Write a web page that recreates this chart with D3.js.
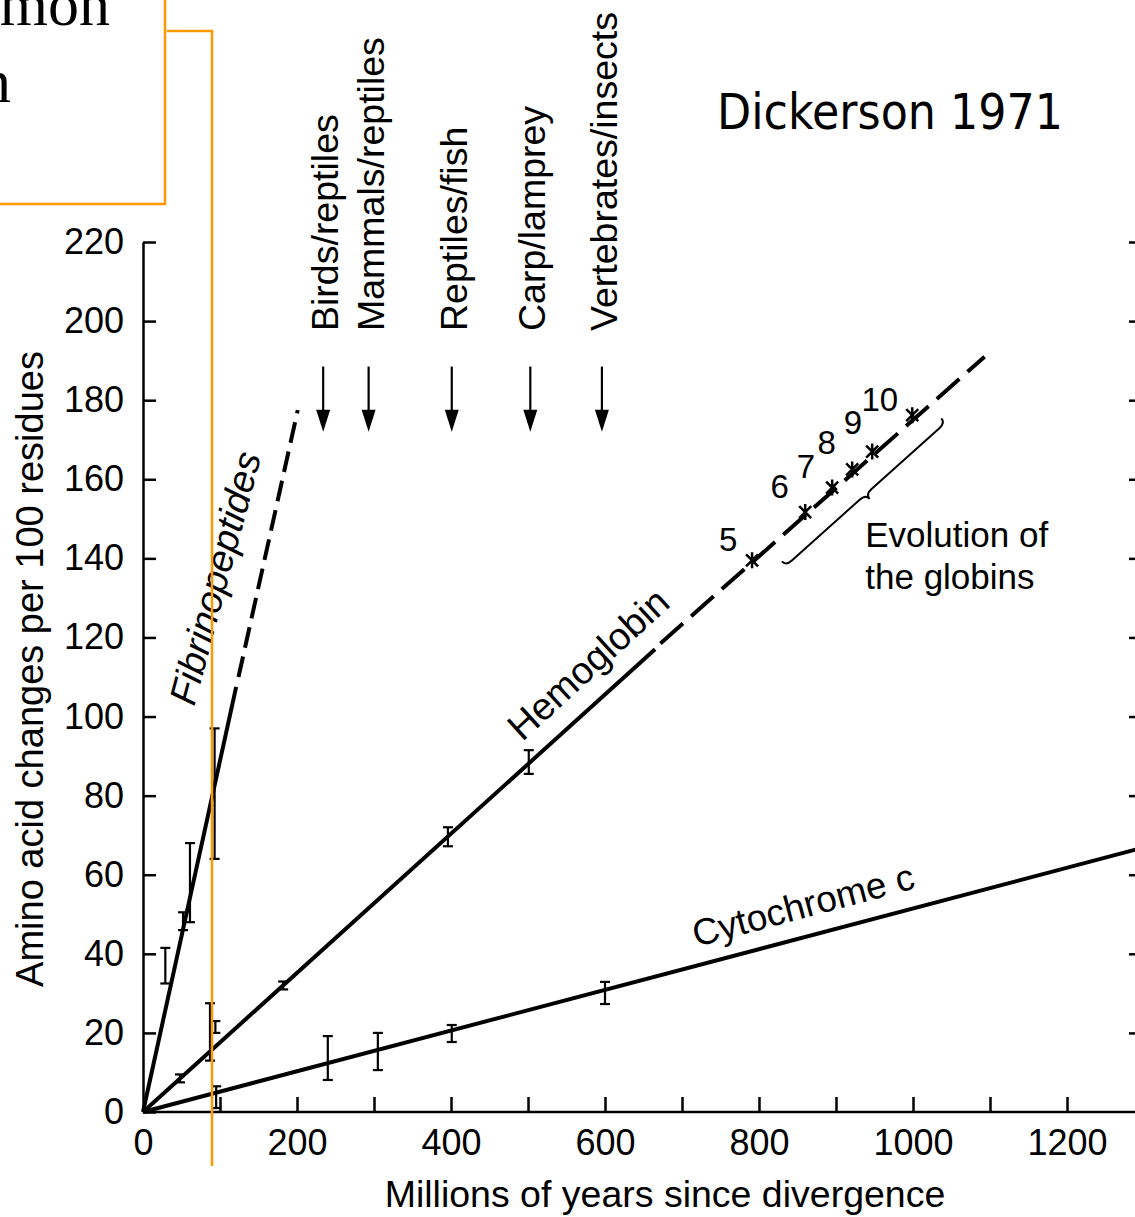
<!DOCTYPE html>
<meta charset="utf-8">

<style type="text/css">
  body {
    margin: 0;
    background: #fff;
  }

  svg text {
    font-family: "Liberation Sans", Arial, sans-serif;
    fill: #000;
  }

  .axis line,
  .axis path {
    stroke: #000;
    stroke-width: 2.5px;
  }
</style>

<body>
</body>

<script src="https://d3js.org/d3.v7.min.js"></script>
<script>
  // axis ticks
  var xTicks = [0, 200, 400, 600, 800, 1000, 1200];
  var xMinorTicks = [100, 200, 300, 400, 500, 600, 700, 800, 900, 1000, 1100, 1200];
  var yTicks = [0, 20, 40, 60, 80, 100, 120, 140, 160, 180, 200, 220];
  var rightTicks = [20, 40, 60, 80, 100, 120, 140, 160, 180, 200, 220];

  // fitted lines [Myr, changes per 100 residues]
  var fibrinoSolid = [[0, 0], [121, 107.5]];
  var fibrinoDashed = [[124, 110], [201, 177.5]];
  var hemoSolid = [[0, 0], [665, 117]];
  var hemoDashed = [[672, 118.5], [1093, 191]];
  var cytoSolid = [[0, 0], [1292, 66.5]];

  // error bars [Myr, low, high]
  var fibrinoErr = [[29, 32.5, 41.5], [52, 46, 50.5], [61, 48, 68], [93, 64, 97]];
  var hemoErr = [[48, 7.5, 9.5], [87, 13, 27.5], [94, 20, 23], [182, 31, 33], [396, 67.2, 72], [501, 85.5, 91.5]];
  var cytoErr = [[95, 1, 6.5], [240, 8.1, 19.2], [305, 10.6, 20], [401, 17.7, 22], [600, 27.3, 32.9]];

  // globin divergences 5..10 on the hemoglobin line
  var globinNums = ["5", "6", "7", "8", "9", "10"];
  var globinMyr = [791, 860, 895, 921, 947, 999];
  var globinVal = [139.5, 151.7, 157.9, 162.5, 167.0, 176.2];
  var globinLabelMyr = [760, 827, 861, 888, 922, 957];
  var globinLabelVal = [144.8, 158.2, 163.3, 169.4, 174.4, 180.3];

  // divergence arrows
  var arrowNames = ["Birds/reptiles", "Mammals/reptiles", "Reptiles/fish", "Carp/lamprey", "Vertebrates/insects"];
  var arrowMyr = [234, 293, 401, 503, 596];

  var width = 1135,
    height = 1217;

  var x = d3.scaleLinear().domain([0, 1200]).range([143, 1067]),
    y = d3.scaleLinear().domain([0, 220]).range([1112, 242]);

  var svg = d3.select("body")
    .append("svg")
    .attr("width", width)
    .attr("height", height);

  svg.append("rect")
    .attr("width", width)
    .attr("height", height)
    .attr("fill", "#fff");

  //********* axes ****************
  var gx = svg.append("g")
    .attr("class", "axis")
    .attr("transform", "translate(0," + y(0) + ")")
    .call(d3.axisTop(x).tickValues(xMinorTicks).tickSize(15).tickFormat(""));
  gx.select(".domain").remove();
  gx.append("line")
    .attr("x1", x(0))
    .attr("x2", width);

  var gxl = svg.append("g")
    .attr("transform", "translate(0," + y(0) + ")")
    .call(d3.axisBottom(x).tickValues(xTicks).tickSize(0).tickPadding(17).tickFormat(d3.format("d")));
  gxl.select(".domain").remove();
  gxl.attr("font-size", 36).attr("font-family", null);

  var gy = svg.append("g")
    .attr("class", "axis")
    .attr("transform", "translate(" + x(0) + ",0)")
    .call(d3.axisRight(y).tickValues(yTicks).tickSize(13).tickFormat("").tickSizeOuter(0));

  var gyl = svg.append("g")
    .attr("transform", "translate(" + x(0) + ",0)")
    .call(d3.axisLeft(y).tickValues(yTicks).tickSize(0).tickPadding(19));
  gyl.select(".domain").remove();
  gyl.attr("font-size", 36).attr("font-family", null);

  var gr = svg.append("g") // right axis, mostly cut off
    .attr("class", "axis")
    .attr("transform", "translate(1141,0)")
    .call(d3.axisLeft(y).tickValues(rightTicks).tickSize(12).tickFormat(""));
  gr.select(".domain").remove();

  svg.append("text") // y label
    .attr("transform", "translate(30,669) rotate(-90)")
    .attr("dy", "0.35em")
    .attr("text-anchor", "middle")
    .style("font-size", "38px")
    .text("Amino acid changes per 100 residues");

  svg.append("text") // x label
    .attr("x", 665)
    .attr("y", 1207)
    .attr("text-anchor", "middle")
    .style("font-size", "37.5px")
    .text("Millions of years since divergence");

  svg.append("text")
    .attr("x", 717)
    .attr("y", 129)
    .attr("textLength", 346)
    .attr("lengthAdjust", "spacingAndGlyphs")
    .style("font-family", "'DejaVu Sans', sans-serif")
    .style("font-size", "50px")
    .text("Dickerson 1971");

  //********* lines ****************
  var line = d3.line()
    .x(function(d) { return x(d[0]); })
    .y(function(d) { return y(d[1]); });

  function drawLine(pts, dash) {
    svg.append("path")
      .datum(pts)
      .attr("d", line)
      .attr("fill", "none")
      .attr("stroke", "#000")
      .attr("stroke-width", 4)
      .attr("stroke-dasharray", dash);
  }
  drawLine(fibrinoSolid, null);
  drawLine(fibrinoDashed, "21,9");
  drawLine(hemoSolid, null);
  drawLine(hemoDashed, "30,11");
  drawLine(cytoSolid, null);

  function drawErr(rows) {
    var g = svg.append("g")
      .attr("stroke", "#000")
      .attr("stroke-width", 2.2);
    rows.forEach(function(d) {
      g.append("line")
        .attr("x1", x(d[0])).attr("x2", x(d[0]))
        .attr("y1", y(d[1])).attr("y2", y(d[2]));
      [d[1], d[2]].forEach(function(v) {
        g.append("line")
          .attr("x1", x(d[0]) - 5).attr("x2", x(d[0]) + 5)
          .attr("y1", y(v)).attr("y2", y(v));
      });
    });
  }
  drawErr(fibrinoErr);
  drawErr(hemoErr);
  drawErr(cytoErr);

  //********* globin stars ****************
  var star = svg.append("g").attr("stroke", "#000").attr("stroke-width", 2.5);
  globinMyr.forEach(function(m, i) {
    var cx = x(m),
      cy = y(globinVal[i]);
    star.append("path")
      .attr("d", "M" + (cx - 6) + "," + (cy - 6) + "L" + (cx + 6) + "," + (cy + 6) +
        "M" + (cx - 6) + "," + (cy + 6) + "L" + (cx + 6) + "," + (cy - 6) +
        "M" + cx + "," + (cy - 8) + "L" + cx + "," + (cy + 8));
  });
  svg.selectAll(".gnum")
    .data(globinNums)
    .enter().append("text")
    .attr("class", "gnum")
    .attr("x", function(d, i) { return x(globinLabelMyr[i]); })
    .attr("y", function(d, i) { return y(globinLabelVal[i]); })
    .attr("dy", "0.35em")
    .attr("text-anchor", "middle")
    .style("font-size", "33px")
    .text(function(d) { return d; });

  // brace under globin points
  (function() {
    var m0 = 815, m1 = 1022, k = hemoDashed[1][1] / hemoDashed[1][0];
    var p0 = [x(m0), y(m0 * k)], p1 = [x(m1), y(m1 * k)];
    var dx = p1[0] - p0[0], dy = p1[1] - p0[1], L = Math.sqrt(dx * dx + dy * dy);
    var u = [dx / L, dy / L], n = [-u[1], u[0]];
    var off = 17, h = 6, q = 8;
    function P(s, t) {
      return (p0[0] + s * u[0] + (t + off) * n[0]) + "," + (p0[1] + s * u[1] + (t + off) * n[1]);
    }
    var d = "M" + P(0, 0) + "Q" + P(0, h) + " " + P(q, h) +
      "L" + P(L / 2 - q, h) + "Q" + P(L / 2, h) + " " + P(L / 2, 2 * h) +
      "Q" + P(L / 2, h) + " " + P(L / 2 + q, h) +
      "L" + P(L - q, h) + "Q" + P(L, h) + " " + P(L, 0);
    svg.append("path")
      .attr("d", d)
      .attr("fill", "none")
      .attr("stroke", "#000")
      .attr("stroke-width", 2);
  })();

  svg.append("text")
    .attr("x", x(938))
    .attr("y", y(143))
    .style("font-size", "35px")
    .text("Evolution of");
  svg.append("text")
    .attr("x", x(938))
    .attr("y", y(132.2))
    .style("font-size", "35px")
    .text("the globins");

  //********* series labels ****************
  svg.append("text")
    .attr("transform", "translate(215,578) rotate(-75)")
    .attr("dy", "0.35em")
    .attr("text-anchor", "middle")
    .style("font-size", "38px")
    .style("font-style", "italic")
    .text("Fibrinopeptides");

  svg.append("text")
    .attr("transform", "translate(588,664) rotate(-42.5)")
    .attr("dy", "0.35em")
    .attr("text-anchor", "middle")
    .style("font-size", "38px")
    .text("Hemoglobin");

  svg.append("text")
    .attr("transform", "translate(803,905) rotate(-15)")
    .attr("dy", "0.35em")
    .attr("text-anchor", "middle")
    .style("font-size", "37px")
    .text("Cytochrome c");

  //********* divergence arrows ****************
  var arr = svg.append("g");
  arrowMyr.forEach(function(m, i) {
    var ax = x(m),
      top = y(188.5),
      tip = y(172);
    arr.append("line")
      .attr("x1", ax).attr("x2", ax)
      .attr("y1", top).attr("y2", tip - 12)
      .attr("stroke", "#000")
      .attr("stroke-width", 2.2);
    arr.append("path")
      .attr("d", "M" + (ax - 7) + "," + (tip - 22) + "L" + (ax + 7) + "," + (tip - 22) + "L" + ax + "," + tip + "Z")
      .attr("fill", "#000");
    arr.append("text")
      .attr("transform", "translate(" + (ax + 2) + "," + y(197.5) + ") rotate(-90)")
      .attr("dy", "0.35em")
      .style("font-size", "37.5px")
      .text(arrowNames[i]);
  });

  //********* orange overlay ****************
  svg.append("rect")
    .attr("x", -10)
    .attr("y", -10)
    .attr("width", 175)
    .attr("height", 214)
    .attr("fill", "#fff")
    .attr("stroke", "#ff9900")
    .attr("stroke-width", 2.5);
  svg.append("path")
    .attr("d", "M167,31H212V1166")
    .attr("fill", "none")
    .attr("stroke", "#ff9900")
    .attr("stroke-width", 2.5);
  svg.append("text")
    .attr("x", 110)
    .attr("y", 25)
    .attr("text-anchor", "end")
    .style("font-family", "'Liberation Serif', 'Times New Roman', serif")
    .style("font-size", "62px")
    .text("mon");
  svg.append("text")
    .attr("x", 11)
    .attr("y", 102)
    .attr("text-anchor", "end")
    .style("font-family", "'Liberation Serif', 'Times New Roman', serif")
    .style("font-size", "62px")
    .text("n");
</script>
